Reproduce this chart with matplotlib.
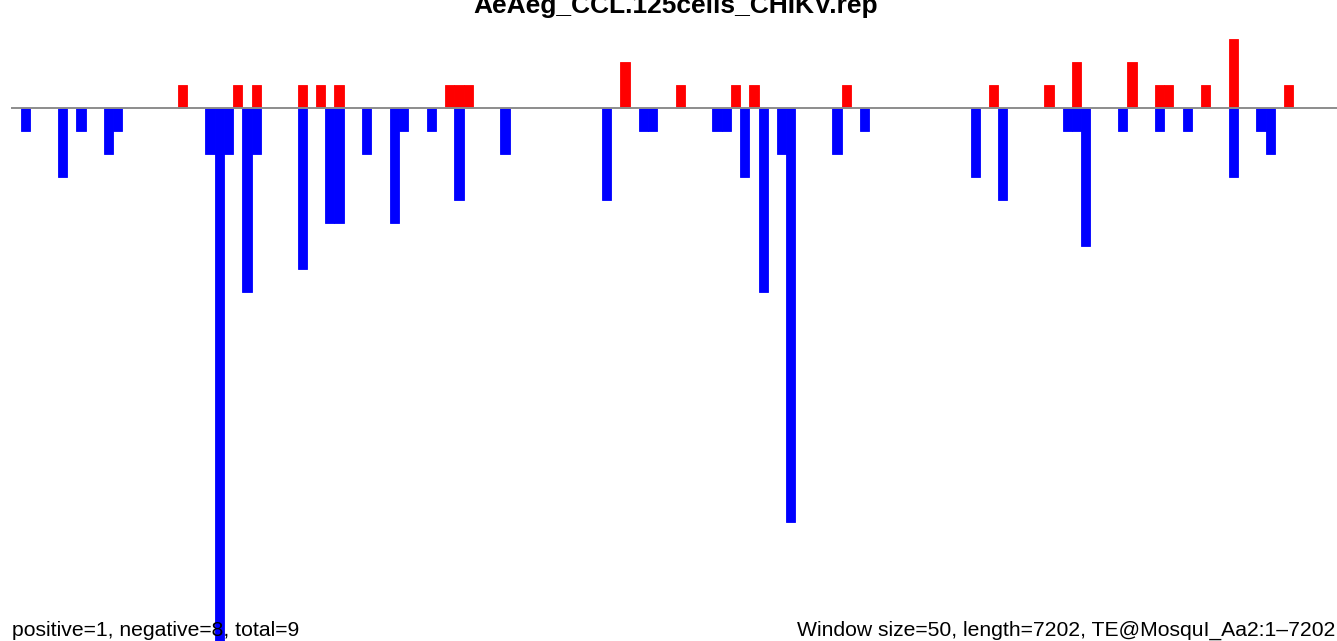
import matplotlib
matplotlib.use('Agg')
import matplotlib.pyplot as plt

plt.rcParams['font.family'] = ['Liberation Sans', 'DejaVu Sans']

# 数据: 窗口起点 (bp) 与计数
window_size = 50
seq_length = 7202
pos_starts = [900, 1200, 1300, 1550, 1650, 1750, 2350, 2400, 2450, 3300, 3600,
              3900, 4000, 4500, 5300, 5600, 5750, 6050, 6200, 6250, 6450, 6600, 6900]
pos_counts = [1, 1, 1, 1, 1, 1, 1, 1, 1, 2, 1,
              1, 1, 1, 1, 1, 2, 2, 1, 1, 1, 3, 1]
neg_starts = [50, 250, 350, 500, 550, 1050, 1100, 1150, 1250, 1300, 1550, 1700,
              1750, 1900, 2050, 2100, 2250, 2400, 2650, 3200, 3400, 3450, 3800,
              3850, 3950, 4050, 4150, 4200, 4450, 4600, 5200, 5350, 5700, 5750,
              5800, 6000, 6200, 6350, 6600, 6750, 6800]
neg_counts = [-1, -3, -1, -2, -1, -2, -24, -2, -8, -2, -7, -5,
              -5, -2, -5, -1, -1, -4, -2, -4, -1, -1, -1,
              -1, -3, -8, -2, -18, -2, -1, -3, -4, -1, -1,
              -6, -1, -1, -1, -3, -1, -2]

title = "AeAeg_CCL.125cells_CHIKV.rep"
left_note = "positive=1, negative=8, total=9"
right_note = "Window size=50, length=7202, TE@MosquI_Aa2:1\u20137202"

fig = plt.figure(figsize=(13.37, 6.41), dpi=100)
ax = fig.add_axes([0, 0, 1, 1])

ax.bar(pos_starts, pos_counts, width=window_size, align='edge',
       color='#FF0000', edgecolor='#FF0000', linewidth=0.6)
ax.bar(neg_starts, neg_counts, width=window_size, align='edge',
       color='#0000FF', edgecolor='#0000FF', linewidth=0.6)
ax.plot([0, seq_length], [0, 0], color='#8c8c8c', lw=1.4, zorder=1)

# 像素映射: 0 bp -> x=11.8px, 9.22px 每窗口; 0 -> y=107.8px, 23px 每单位
ax.set_xlim(-64, 7187)
ax.set_ylim(-(641 - 107.8) / 23, 107.8 / 23)
ax.axis('off')

fig.text(676 / 1337, 1 - 13.3 / 641, title, ha='center', va='baseline',
         fontsize=19, fontweight='bold')
fig.text(12 / 1337, 1 - 636 / 641, left_note, ha='left', va='baseline',
         fontsize=15.25)
fig.text(797 / 1337, 1 - 636 / 641, right_note, ha='left', va='baseline',
         fontsize=15.25)

fig.savefig('out.png', dpi=100)
